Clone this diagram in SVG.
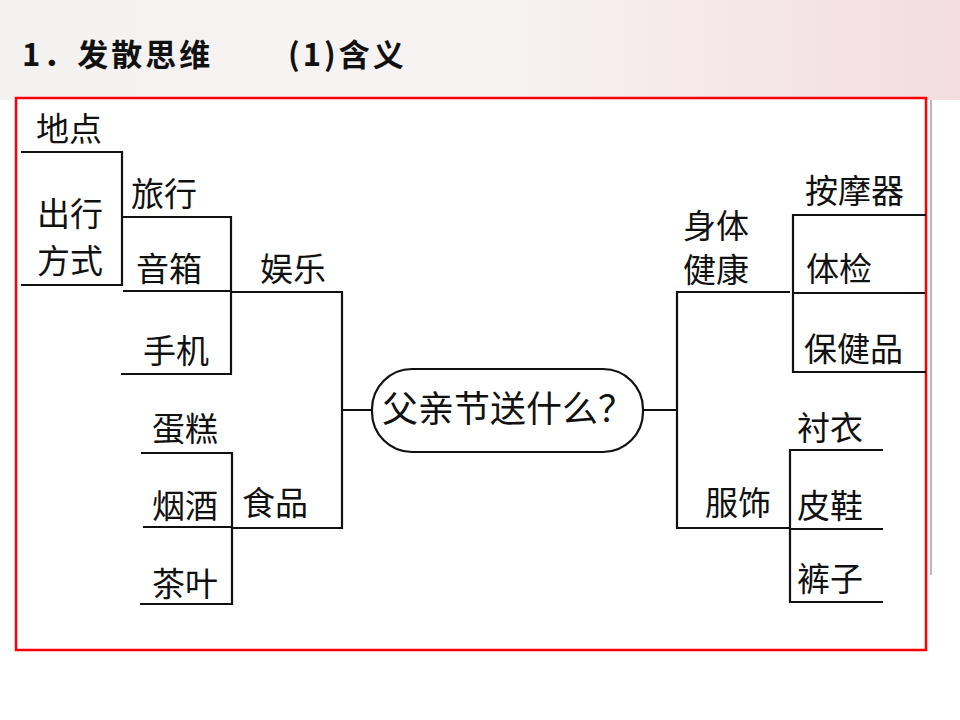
<svg xmlns="http://www.w3.org/2000/svg" width="960" height="720" viewBox="0 0 960 720">
<defs>
<linearGradient id="bg" x1="0" y1="0" x2="1" y2="0">
<stop offset="0" stop-color="#f4f1f1"/><stop offset="0.5" stop-color="#f7f3f3"/><stop offset="1" stop-color="#f3dde0"/>
</linearGradient>
</defs>
<style>
.t{font-family:"Noto Sans CJK SC","Noto Sans",sans-serif;font-size:33px;fill:#111}
.h{font-family:"Noto Sans CJK SC",sans-serif;font-size:31px;font-weight:bold;fill:#111;letter-spacing:3px}
.l{fill:none;stroke:#111;stroke-width:2.2}
</style>
<rect width="960" height="720" fill="#fff"/>
<rect width="960" height="100" fill="url(#bg)"/>
<text x="22" y="66" class="h">1．发散思维</text>
<text x="288" y="66" class="h">(1)含义</text>
<rect x="16" y="98" width="910" height="552" fill="#fff" stroke="#f00" stroke-width="2.5"/>
<line x1="931" y1="100" x2="931" y2="575" stroke="#888" stroke-width="1.2"/>
<g id="connectors" class="l">
<path d="M21 152H122V285H21"/>
<path d="M122 217H231V374H121M123 291H231"/>
<path d="M231 292H342V528H232M342 410H372"/>
<path d="M141 453H232V604H140M143 527H232"/>
<path d="M643 410H677M790 292H677V528H790"/>
<path d="M926 215H793V372H926M793 293H925"/>
<path d="M883 450H790V602H883M790 529H883"/>
</g>
<g id="center"><rect x="372" y="369" width="271" height="83" rx="40" fill="#fff" stroke="#111" stroke-width="2.2"/>
<text x="508" y="422" text-anchor="middle" class="t" style="font-size:36px">父亲节送什么？</text></g>
<g id="n-didian"><text x="36" y="141" class="t">地点</text></g>
<g id="n-chuxing"><text x="37" y="226" class="t">出行</text><text x="37" y="273" class="t">方式</text></g>
<g id="n-lvxing"><text x="131" y="206" class="t">旅行</text></g>
<g id="n-yinxiang"><text x="136" y="281" class="t">音箱</text></g>
<g id="n-shouji"><text x="143" y="363" class="t">手机</text></g>
<g id="n-yule"><text x="260" y="281" class="t">娱乐</text></g>
<g id="n-dangao"><text x="152" y="441" class="t">蛋糕</text></g>
<g id="n-yanjiu"><text x="152" y="518" class="t">烟酒</text></g>
<g id="n-chaye"><text x="152" y="596" class="t">茶叶</text></g>
<g id="n-shipin"><text x="242" y="515" class="t">食品</text></g>
<g id="n-shenti"><text x="683" y="238" class="t">身体</text><text x="683" y="282" class="t">健康</text></g>
<g id="n-anmoqi"><text x="805" y="203" class="t">按摩器</text></g>
<g id="n-tijian"><text x="806" y="281" class="t">体检</text></g>
<g id="n-baojianpin"><text x="804" y="361" class="t">保健品</text></g>
<g id="n-fushi"><text x="705" y="515" class="t">服饰</text></g>
<g id="n-chenyi"><text x="797" y="440" class="t">衬衣</text></g>
<g id="n-pixie"><text x="797" y="518" class="t">皮鞋</text></g>
<g id="n-kuzi"><text x="797" y="591" class="t">裤子</text></g>
</svg>
